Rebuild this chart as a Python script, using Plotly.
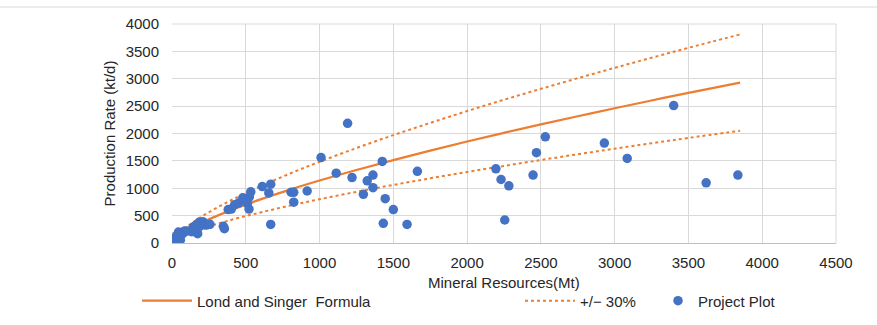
import plotly.graph_objects as go

# ---- data ----
resources_mt = [5, 31, 44, 57, 73, 86, 106, 133, 145, 161, 167, 174, 185, 184, 208, 223, 235, 249, 257, 348,
                355, 381, 402, 425, 451, 480, 511, 522, 524, 534, 612, 656, 669, 669, 807, 825, 825, 916, 1010, 1113,
                1190, 1220, 1297, 1323, 1362, 1362, 1425, 1432, 1445, 1500, 1593, 1663, 2195, 2230, 2255, 2283, 2447, 2470, 2530, 2930,
                3085, 3400, 3620, 3835]
production_ktd = [30, 134, 200, 55, 171, 220, 220, 207, 293, 323, 189, 170, 298, 378, 390, 330, 329, 340, 342, 305,
                  262, 610, 620, 700, 730, 825, 720, 620, 840, 935, 1030, 915, 1075, 340, 927, 925, 745, 950, 1560, 1275,
                  2185, 1195, 890, 1135, 1240, 1010, 1490, 360, 810, 610, 340, 1310, 1355, 1160, 420, 1045, 1240, 1650, 1940, 1825,
                  1545, 2510, 1100, 1240]

formula_x = [10, 50, 100, 200, 400, 600, 800, 1000, 1250, 1500, 1750, 2000, 2250, 2500, 2750, 3000, 3250, 3500, 3850]
formula_y = [45, 140, 228, 370, 601, 797, 976, 1141, 1334, 1515, 1687, 1854, 2012, 2166, 2315, 2461, 2603, 2742, 2930]

band_x = [50, 100, 200, 400, 600, 800, 1000, 1250, 1500, 1750, 2000, 2250, 2500, 2750, 3000, 3250, 3500, 3850]
band_upper = [182, 296, 481, 781, 1036, 1269, 1483, 1734, 1970, 2193, 2410, 2616, 2816, 3010, 3199, 3384, 3565, 3809]
band_lower = [98, 160, 259, 421, 558, 683, 799, 934, 1061, 1181, 1298, 1408, 1516, 1621, 1723, 1822, 1919, 2051]

x_ticks = [0, 500, 1000, 1500, 2000, 2500, 3000, 3500, 4000, 4500]
y_ticks = [0, 500, 1000, 1500, 2000, 2500, 3000, 3500, 4000]
x_title = "Mineral Resources(Mt)"
y_title = "Production Rate (kt/d)"

ORANGE = "#ED7D31"
BLUE = "#4472C4"
FONT = "Liberation Sans, Arial, sans-serif"
TXT = "#262626"
GRID = "#D9D9D9"

fig = go.Figure()

fig.add_trace(go.Scatter(x=formula_x, y=formula_y, mode="lines", name="Lond and Singer  Formula",
                         line=dict(color=ORANGE, width=2.25, shape="spline"), legend="legend", showlegend=True))
fig.add_trace(go.Scatter(x=band_x, y=band_upper, mode="lines", name="+/− 30%",
                         line=dict(color=ORANGE, width=2, dash="dot", shape="spline"), legend="legend2"))
fig.add_trace(go.Scatter(x=band_x, y=band_lower, mode="lines", name="+/− 30%", showlegend=False,
                         line=dict(color=ORANGE, width=2, dash="dot", shape="spline"), legend="legend2"))
fig.add_trace(go.Scatter(x=resources_mt, y=production_ktd, mode="markers", name="Project Plot",
                         marker=dict(color=BLUE, size=9.5, line=dict(width=0)), legend="legend3"))

legend_common = dict(orientation="h", xref="container", yref="container", yanchor="middle", y=0.074,
                     xanchor="left", font=dict(family=FONT, size=15, color=TXT), bgcolor="rgba(0,0,0,0)")

fig.update_layout(
    width=877, height=325,
    showlegend=True,
    margin=dict(l=172, r=41, t=24, b=82, autoexpand=False),
    paper_bgcolor="white", plot_bgcolor="white",
    font=dict(family=FONT, size=15, color=TXT),
    legend=dict(x=137 / 877, itemwidth=50, **legend_common),
    legend2=dict(x=520 / 877, itemwidth=50, **legend_common),
    legend3=dict(x=658 / 877, **legend_common),
    xaxis=dict(range=[0, 4500], tickvals=x_ticks, ticktext=[str(v) for v in x_ticks],
               showgrid=True, gridcolor=GRID, gridwidth=1, zeroline=False,
               showline=True, linecolor="#BFBFBF", linewidth=1, mirror=False,
               ticks="", ticklabelstandoff=6, tickfont=dict(family=FONT, size=15, color=TXT)),
    yaxis=dict(range=[0, 4000], tickvals=y_ticks, ticktext=[str(v) for v in y_ticks],
               showgrid=True, gridcolor=GRID, gridwidth=1, zeroline=False,
               showline=False, ticks="", ticklabelstandoff=12,
               tickfont=dict(family=FONT, size=15, color=TXT),
               title=dict(text=y_title, font=dict(family=FONT, size=15, color=TXT), standoff=6)),
    annotations=[dict(text=x_title, xref="paper", yref="paper", x=0.5, y=-0.1826,
                      xanchor="center", yanchor="middle", showarrow=False,
                      font=dict(family=FONT, size=15, color=TXT))],
    shapes=[dict(type="line", xref="paper", yref="paper", x0=-0.259, x1=1.0617, y0=1.0776, y1=1.0776,
                 line=dict(color=GRID, width=1)),
            dict(type="line", xref="paper", yref="paper", x0=1, x1=1, y0=0, y1=1,
                 line=dict(color=GRID, width=1)),
            dict(type="line", xref="paper", yref="paper", x0=0, x1=1, y0=1, y1=1,
                 line=dict(color=GRID, width=1))],
)

fig.write_html("out.html")
